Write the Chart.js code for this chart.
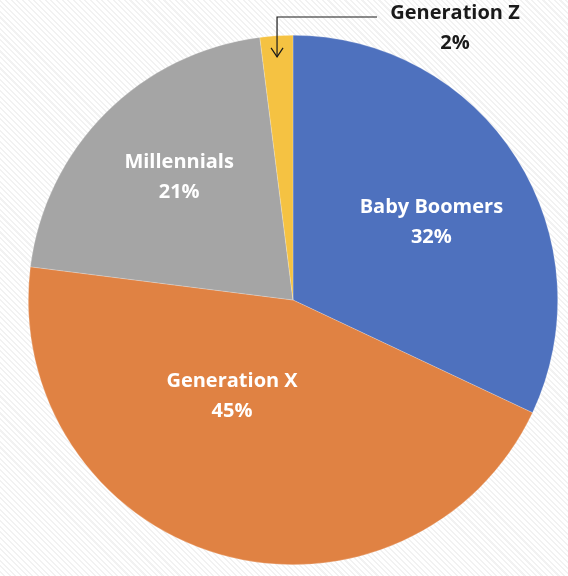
<!DOCTYPE html>
<html>
<head>
<meta charset="utf-8">
<script src="https://cdn.jsdelivr.net/npm/chart.js@4"></script>
<style>
  html, body { margin: 0; padding: 0; }
  body {
    width: 568px; height: 576px; overflow: hidden;
    background: repeating-linear-gradient(45deg, #ffffff 0px, #ffffff 2.5px, #f2f2f2 2.5px, #f2f2f2 4px);
  }
  #wrap { position: relative; width: 568px; height: 576px; }
</style>
</head>
<body>
<div id="wrap"><canvas id="genChart"></canvas></div>
<script>
var generations = ['Baby Boomers', 'Generation X', 'Millennials', 'Generation Z'];
var shares = [32, 45, 21, 2];
var sliceColors = ['#4E71BE', '#E08243', '#A5A5A5', '#F5C242'];

// where each label sits: angle nudge (deg) from mid-angle, fraction of radius
var labelSpots = [
    { turn: 3, dist: 0.6 },
    { turn: 16, dist: 0.432 },
    { turn: 2.2, dist: 0.633 },
    null
];

var labelPlugin = {
    id: 'sliceLabels',
    afterDatasetsDraw: function(chart) {
        var ctx = chart.ctx;
        var arcs = chart.getDatasetMeta(0).data;
        ctx.save();
        ctx.font = 'bold 20px "Open Sans", sans-serif';
        ctx.textAlign = 'center';
        ctx.textBaseline = 'middle';
        arcs.forEach(function(arc, i) {
            var p = arc.getProps(['x', 'y', 'startAngle', 'endAngle', 'outerRadius'], true);
            var text1 = generations[i];
            var text2 = shares[i] + '%';
            var spot = labelSpots[i];
            if (spot) {
                var a = (p.startAngle + p.endAngle) / 2 + spot.turn * Math.PI / 180;
                var lx = p.x + Math.cos(a) * p.outerRadius * spot.dist;
                var ly = p.y + Math.sin(a) * p.outerRadius * spot.dist;
                ctx.fillStyle = '#ffffff';
                ctx.fillText(text1, lx, ly - 15);
                ctx.fillText(text2, lx, ly + 15);
            } else {
                // small slice: label outside with an arrow down to it
                var mid = (p.startAngle + p.endAngle) / 2;
                var ax = p.x + Math.cos(mid) * p.outerRadius * 0.96;
                var topY = 17;
                var tipY = p.y + Math.sin(mid) * p.outerRadius * 0.92;
                ctx.fillStyle = '#1a1a1a';
                ctx.fillText(text1, 455, 13);
                ctx.fillText(text2, 455, 43);
                ctx.strokeStyle = '#1a1a1a';
                ctx.lineWidth = 1.2;
                ctx.beginPath();
                ctx.moveTo(377, topY);
                ctx.lineTo(ax, topY);
                ctx.lineTo(ax, tipY);
                ctx.stroke();
                ctx.beginPath();
                ctx.moveTo(ax - 6, tipY - 9);
                ctx.lineTo(ax, tipY);
                ctx.lineTo(ax + 6, tipY - 9);
                ctx.stroke();
            }
        });
        ctx.restore();
    }
};

var ctx = document.getElementById('genChart').getContext('2d');
var genChart = new Chart(ctx, {
    type: 'pie',
    data: {
        labels: generations,
        datasets: [{
            data: shares,
            backgroundColor: sliceColors,
            borderColor: 'rgba(255,255,255,0.35)',
            borderWidth: 0.6
        }]
    },
    options: {
        responsive: true,
        maintainAspectRatio: false,
        animation: false,
        layout: { padding: { left: 28, right: 10, top: 35, bottom: 11 } },
        plugins: {
            legend: { display: false },
            tooltip: { enabled: false }
        }
    },
    plugins: [labelPlugin]
});
</script>
</body>
</html>
